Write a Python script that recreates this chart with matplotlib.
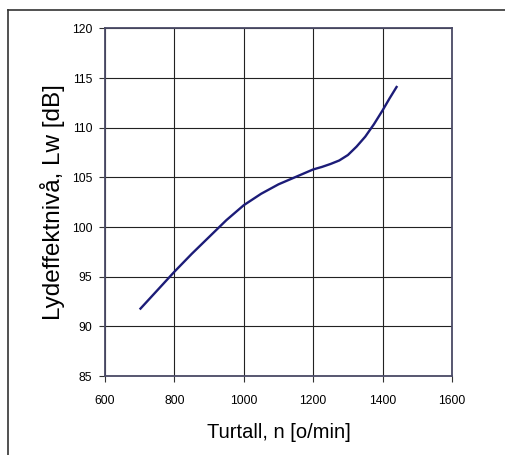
import matplotlib.pyplot as plt
from matplotlib.lines import Line2D

# data
turtall = [700, 750, 800, 850, 900, 950, 1000, 1050, 1100, 1150, 1200, 1225,
           1250, 1275, 1300, 1325, 1350, 1375, 1400, 1420, 1442]
lydeffekt = [91.7, 93.6, 95.5, 97.3, 99.0, 100.7, 102.2, 103.35, 104.3, 105.05, 105.8, 106.05,
             106.35, 106.7, 107.25, 108.1, 109.1, 110.35, 111.75, 112.95, 114.2]
x_ticks = [600, 800, 1000, 1200, 1400, 1600]
y_ticks = [85, 90, 95, 100, 105, 110, 115, 120]

plt.rcParams['font.family'] = ['Liberation Sans', 'DejaVu Sans']

fig = plt.figure(figsize=(5.06, 4.55), dpi=100)
ax = fig.add_axes([0.2075, 0.1736, 0.6858, 0.764])

ax.plot(turtall, lydeffekt, color='#1c1c78', lw=1.7, solid_capstyle='butt')

ax.set_xlim(600, 1600)
ax.set_ylim(85, 120)
ax.set_xticks(x_ticks)
ax.set_yticks(y_ticks)
ax.grid(True, color='#222222', lw=0.8)
ax.set_axisbelow(True)
for s in ax.spines.values():
    s.set_color('#4a4a66')
    s.set_linewidth(1.3)
ax.tick_params(axis='y', direction='out', length=4, width=0.8, pad=5, labelsize=8.7, color='#333333')
ax.tick_params(axis='x', direction='out', length=4, width=0.8, pad=10, labelsize=8.7, color='#333333')

ax.set_xlabel('Turtall, n [o/min]', fontsize=14.5, labelpad=11)
ax.set_ylabel('Lydeffektnivå, Lw [dB]', fontsize=17.5, labelpad=5)

# frame of the screenshot (top and left edges)
fig.add_artist(Line2D([0.016, 1.0], [0.978, 0.978], transform=fig.transFigure, color='#333333', lw=1.2))
fig.add_artist(Line2D([0.016, 0.016], [0.0, 0.978], transform=fig.transFigure, color='#333333', lw=1.2))

fig.savefig('out.png', dpi=100)
